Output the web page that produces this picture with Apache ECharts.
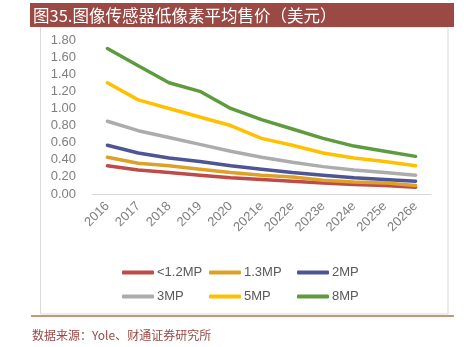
<!DOCTYPE html>
<html>
<head>
<meta charset="utf-8">
<script src="https://cdn.jsdelivr.net/npm/echarts@6/dist/echarts.min.js"></script>
<style>
  html, body { margin: 0; padding: 0; background: #fff; }
  #chart { width: 473px; height: 347px; }
</style>
</head>
<body>
<div id="chart"></div>
<script>
// Categories (years, "e" = estimate)
const years = ['2016', '2017', '2018', '2019', '2020', '2021e', '2022e', '2023e', '2024e', '2025e', '2026e'];

// Average selling price per sensor resolution, USD
const mp12 = [0.33, 0.28, 0.25, 0.22, 0.19, 0.17, 0.15, 0.13, 0.11, 0.10, 0.08];
const mp13 = [0.43, 0.36, 0.33, 0.29, 0.25, 0.22, 0.20, 0.16, 0.14, 0.13, 0.10];
const mp2  = [0.57, 0.48, 0.42, 0.38, 0.33, 0.29, 0.25, 0.22, 0.19, 0.17, 0.15];
const mp3  = [0.85, 0.74, 0.66, 0.58, 0.50, 0.43, 0.37, 0.32, 0.28, 0.25, 0.22];
const mp5  = [1.30, 1.10, 1.00, 0.90, 0.80, 0.65, 0.57, 0.48, 0.42, 0.38, 0.33];
const mp8  = [1.70, 1.50, 1.30, 1.20, 1.00, 0.87, 0.76, 0.65, 0.56, 0.50, 0.44];

const seriesNames = ['<1.2MP', '1.3MP', '2MP', '3MP', '5MP', '8MP'];
const seriesData = [mp12, mp13, mp2, mp3, mp5, mp8];
const colors = ['#BE4B48', '#DDA128', '#4E5594', '#ACACAC', '#FFC000', '#5E9B3C'];

const titleText = '图35.图像传感器低像素平均售价（美元）';
const sourceText = '数据来源：Yole、财通证券研究所';

const chart = echarts.init(document.getElementById('chart'));

const legendBase = {
  orient: 'vertical',
  top: 261,
  itemWidth: 32,
  itemHeight: 4,
  itemGap: 11,
  icon: 'roundRect',
  selectedMode: false,
  textStyle: { color: '#595959', fontSize: 13, fontFamily: 'Liberation Sans, Arial, sans-serif', padding: [0, 0, 0, -2] }
};

chart.setOption({
  animation: false,
  color: colors,
  grid: { left: 92, right: 42, top: 40, bottom: 153 },
  graphic: [
    { type: 'rect', shape: { x: 30, y: 3, width: 424, height: 24 }, style: { fill: '#9A4944' }, z: 10 },
    { type: 'text', left: 33, top: 7, style: { text: titleText, fill: '#FFFFFF', font: '16.5px "Noto Sans CJK SC", sans-serif' }, z: 11 },
    { type: 'rect', shape: { x: 40.5, y: 27, width: 407.5, height: 287 }, style: { fill: 'none', stroke: '#D9D9D9', lineWidth: 1 }, z: 1 },
    { type: 'line', shape: { x1: 31, y1: 316, x2: 454, y2: 316 }, style: { stroke: '#B9704A', lineWidth: 1.5 }, z: 2 },
    { type: 'text', left: 32, top: 329, style: { text: sourceText, fill: '#9A4944', font: '12px "Noto Sans CJK SC", sans-serif' }, z: 2 }
  ],
  legend: [
    Object.assign({}, legendBase, { left: 117, data: [seriesNames[0], seriesNames[3]] }),
    Object.assign({}, legendBase, { left: 204, data: [seriesNames[1], seriesNames[4]] }),
    Object.assign({}, legendBase, { left: 292, data: [seriesNames[2], seriesNames[5]] })
  ],
  xAxis: {
    type: 'category',
    data: years,
    boundaryGap: true,
    axisLine: { lineStyle: { color: '#D9D9D9', width: 1 } },
    axisTick: { show: false },
    axisLabel: {
      rotate: 45,
      interval: 0,
      margin: 10,
      color: '#7F7F7F',
      fontSize: 13,
      fontFamily: 'Liberation Sans, Arial, sans-serif'
    }
  },
  yAxis: {
    type: 'value',
    min: 0,
    max: 1.8,
    interval: 0.2,
    axisLine: { show: false },
    axisTick: { show: false },
    splitLine: { show: false },
    axisLabel: {
      margin: 16,
      color: '#7F7F7F',
      fontSize: 13,
      fontFamily: 'Liberation Sans, Arial, sans-serif',
      formatter: v => v.toFixed(2)
    }
  },
  series: seriesNames.map((name, i) => ({
    name: name,
    type: 'line',
    data: seriesData[i],
    symbol: 'none',
    smooth: false,
    lineStyle: { width: 3.5, color: colors[i], cap: 'round', join: 'round' },
    itemStyle: { color: colors[i] },
    z: 3
  }))
});
</script>
</body>
</html>
